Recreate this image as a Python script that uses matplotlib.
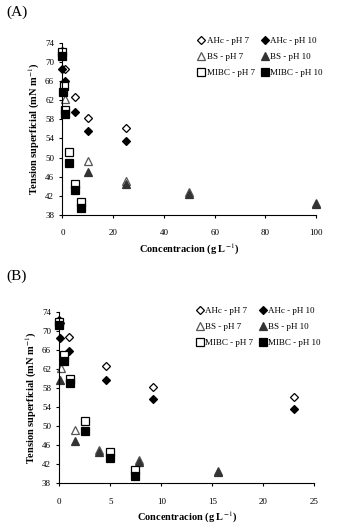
import matplotlib
matplotlib.use("Agg")
import matplotlib.pyplot as plt

plt.rcParams['font.family'] = ['Liberation Serif', 'DejaVu Serif']
plt.rcParams['mathtext.fontset'] = 'stix'

# panel A data (g/L, mN/m)
a_ahc7_x = [0, 0, 1, 5, 10, 25]
a_ahc7_y = [72.3, 71.6, 68.6, 62.6, 58.2, 56.2]
a_ahc10_x = [0, 0, 1, 5, 10, 25]
a_ahc10_y = [71.8, 68.5, 65.9, 59.6, 55.6, 53.4]
a_bs7_x = [0, 1, 10, 25, 50, 100]
a_bs7_y = [72.0, 62.2, 49.2, 45.0, 42.7, 40.5]
a_bs10_x = [0, 1, 10, 25, 50, 100]
a_bs10_y = [71.5, 59.6, 47.0, 44.5, 42.4, 40.3]
a_mibc7_x = [0, 0.5, 1, 2.5, 5, 7.4]
a_mibc7_y = [72.0, 65.0, 60.0, 51.1, 44.4, 40.7]
a_mibc10_x = [0, 0.4, 0.9, 2.5, 5, 7.2]
a_mibc10_y = [71.3, 63.8, 59.2, 48.9, 43.3, 39.5]

# panel B data
b_ahc7_x = [0, 0.1, 0.9, 4.6, 9.2, 23]
b_ahc7_y = [72.3, 71.6, 68.7, 62.6, 58.2, 56.2]
b_ahc10_x = [0, 0.05, 0.9, 4.6, 9.2, 23]
b_ahc10_y = [71.8, 68.5, 65.8, 59.6, 55.6, 53.6]
b_bs7_x = [0, 0.15, 1.5, 3.9, 7.8, 15.6]
b_bs7_y = [72.0, 62.2, 49.2, 45.0, 42.8, 40.5]
b_bs10_x = [0, 0.1, 1.5, 3.9, 7.8, 15.6]
b_bs10_y = [71.5, 59.6, 46.9, 44.5, 42.4, 40.3]
b_mibc7_x = [0, 0.5, 1.0, 2.5, 5, 7.4]
b_mibc7_y = [72.0, 65.0, 60.0, 51.1, 44.5, 40.8]
b_mibc10_x = [0, 0.5, 1.0, 2.5, 5, 7.4]
b_mibc10_y = [71.3, 63.8, 59.1, 49.0, 43.3, 39.5]

labels = ['AHc - pH 7', 'AHc - pH 10', 'BS - pH 7', 'BS - pH 10',
          'MIBC - pH 7', 'MIBC - pH 10']
styles = [
    dict(marker='D', mfc='white', mec='black', ms=4),
    dict(marker='D', mfc='black', mec='black', ms=4),
    dict(marker='^', mfc='white', mec='#555555', ms=5.5),
    dict(marker='^', mfc='#333333', mec='#333333', ms=5.5),
    dict(marker='s', mfc='white', mec='black', ms=5.5),
    dict(marker='s', mfc='black', mec='black', ms=5.5),
]

fig = plt.figure(figsize=(3.41, 5.28), dpi=100)

def panel(rect, series, xmax, xstep, tag, tagy):
    ax = fig.add_axes(rect)
    handles = []
    for (x, y), lab, st in zip(series, labels, styles):
        h, = ax.plot(x, y, ls='none', mew=0.9, label=lab, clip_on=False, **st)
        handles.append(h)
    ax.set_xlim(0, xmax)
    ax.set_ylim(38, 74)
    ax.set_xticks(list(range(0, xmax + 1, xstep)))
    ax.set_yticks(list(range(38, 75, 4)))
    for s in ['top', 'right']:
        ax.spines[s].set_visible(False)
    ax.tick_params(labelsize=6.5, length=2.5, width=0.8, colors='black')
    ax.tick_params(axis='x', pad=8)
    ax.set_xlabel('Concentracion (g L$^{-1}$)', fontsize=7.5, fontweight='bold', labelpad=3)
    ax.set_ylabel('Tension superficial (mN m$^{-1}$)', fontsize=7.5, fontweight='bold', labelpad=2)
    # legend order: rows are pairs
    order = [0, 2, 4, 1, 3, 5]
    ax.legend([handles[i] for i in order], [labels[i] for i in order],
              ncol=2, frameon=False, fontsize=6.5, loc='upper right',
              bbox_to_anchor=(1.05, 1.07), handletextpad=0.0, columnspacing=0.5,
              labelspacing=0.85, handlelength=1.2, borderpad=0.2)
    fig.text(0.02, tagy, tag, fontsize=11, va='center')
    return ax

panel([0.183, 0.593, 0.744, 0.326],
      [(a_ahc7_x, a_ahc7_y), (a_ahc10_x, a_ahc10_y), (a_bs7_x, a_bs7_y),
       (a_bs10_x, a_bs10_y), (a_mibc7_x, a_mibc7_y), (a_mibc10_x, a_mibc10_y)],
      100, 20, '(A)', 1 - 12 / 528)
panel([0.174, 0.085, 0.748, 0.324],
      [(b_ahc7_x, b_ahc7_y), (b_ahc10_x, b_ahc10_y), (b_bs7_x, b_bs7_y),
       (b_bs10_x, b_bs10_y), (b_mibc7_x, b_mibc7_y), (b_mibc10_x, b_mibc10_y)],
      25, 5, '(B)', 1 - 276 / 528)

fig.savefig('out.png', dpi=100)
